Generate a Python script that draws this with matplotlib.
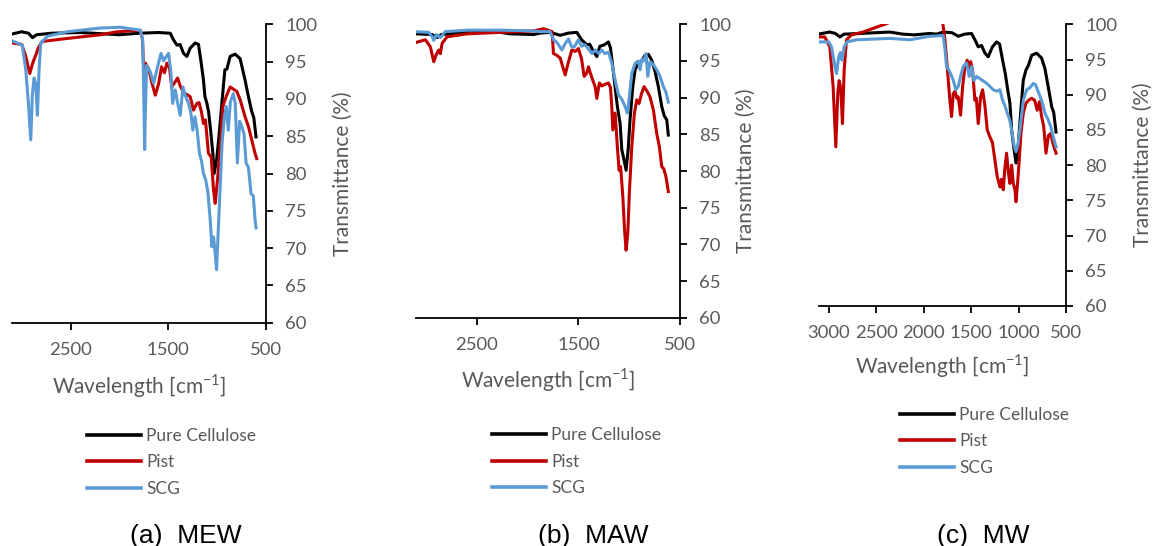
import matplotlib
matplotlib.use("Agg")
import matplotlib.pyplot as plt

plt.rcParams['font.family'] = ['Lato', 'DejaVu Sans']
plt.rcParams['mathtext.fontset'] = 'custom'
plt.rcParams['mathtext.rm'] = 'Lato'

# FTIR spectra: wavenumber (cm-1) and transmittance (%)
# (a) MEW
cell_a_w = [3100, 3000, 2930, 2890, 2850, 2700, 2400, 2000, 1800, 1600, 1480, 1446, 1411, 1380, 1344, 1310,
            1276, 1225, 1191, 1163, 1140, 1125, 1105, 1088, 1067, 1044, 1031, 1006, 982, 952, 921, 900, 867,
            816, 765, 714, 680, 646, 625, 602]
cell_a_t = [98.7, 99.0, 98.8, 98.2, 98.6, 98.8, 98.9, 98.6, 98.8, 98.9, 98.8, 97.9, 97.2, 97.3, 96.1, 95.7,
            96.8, 97.5, 97.3, 94.8, 92.5, 90.3, 89.4, 88.3, 85.8, 82.7, 80.0, 81.8, 84.9, 89.4, 93.9, 94.0, 95.7,
            96.0, 95.4, 92.5, 90.3, 88.3, 87.5, 84.9]
pist_a_w = [3100, 3000, 2959, 2918, 2895, 2877, 2853, 2833, 2792, 2537, 2194, 2024, 1786, 1765, 1752, 1735,
            1700, 1667, 1633, 1600, 1569, 1540, 1514, 1487, 1465, 1429, 1405, 1380, 1344, 1310, 1276, 1242,
            1207, 1185, 1160, 1140, 1120, 1089, 1061, 1037, 1020, 997, 969, 942, 908, 867, 833, 799, 765, 714,
            680, 646, 612, 595]
pist_a_t = [97.5, 97.3, 95.7, 93.4, 94.5, 95.2, 96.0, 96.8, 97.7, 98.1, 98.6, 99.0, 99.2, 98.0, 94.0, 94.8,
            94.0, 92.1, 90.5, 92.0, 94.3, 93.5, 94.8, 94.1, 91.6, 92.3, 92.8, 91.8, 90.8, 90.6, 90.3, 88.5,
            89.4, 89.5, 88.2, 86.7, 87.2, 82.7, 82.2, 77.8, 76.0, 79.1, 83.6, 89.0, 90.3, 91.6, 91.3, 91.0, 89.9,
            87.6, 86.3, 84.5, 82.7, 82.0]
scg_a_w = [3100, 2995, 2959, 2932, 2908, 2891, 2874, 2857, 2840, 2823, 2806, 2738, 2533, 2194, 1990, 1786,
           1762, 1748, 1742, 1735, 1722, 1684, 1650, 1610, 1575, 1548, 1530, 1497, 1475, 1456, 1429, 1405,
           1378, 1350, 1325, 1293, 1270, 1249, 1227, 1205, 1181, 1159, 1140, 1116, 1095, 1071, 1054, 1037,
           1020, 1006, 990, 969, 950, 929, 908, 886, 865, 834, 815, 793, 770, 748, 725, 704, 680, 653, 630,
           612, 602]
scg_a_t = [97.8, 97.2, 93.9, 89.4, 84.5, 90.7, 92.8, 92.0, 87.8, 93.9, 97.5, 98.4, 99.0, 99.5, 99.6, 99.2,
           97.9, 88.0, 83.2, 88.0, 94.5, 93.6, 92.1, 94.3, 96.1, 95.1, 95.5, 96.1, 93.8, 89.4, 91.2, 89.5,
           87.8, 91.6, 90.4, 89.4, 88.2, 85.8, 87.6, 85.8, 82.7, 81.6, 80.0, 79.1, 77.5, 73.8, 70.2, 71.5,
           69.3, 67.1, 72.0, 78.2, 84.0, 87.2, 89.0, 85.8, 89.6, 90.7, 89.4, 81.4, 87.0, 86.3, 85.3, 81.4,
           80.8, 77.3, 77.0, 73.8, 72.7]

# (b) MAW
cell_b_w = [3106, 2941, 2892, 2850, 2597, 2368, 2172, 1942, 1877, 1778, 1680, 1600, 1516, 1470, 1417, 1390,
            1352, 1319, 1290, 1245, 1205, 1185, 1162, 1140, 1117, 1090, 1073, 1051, 1031, 1010, 992, 965, 942,
            910, 877, 844, 811, 778, 745, 713, 680, 655, 631, 615]
cell_b_t = [98.7, 98.6, 98.2, 98.6, 98.9, 99.1, 98.7, 98.6, 98.8, 98.9, 98.5, 98.8, 98.9, 97.9, 97.2, 97.3,
            96.3, 95.6, 97.0, 97.2, 97.6, 96.8, 94.2, 91.5, 88.8, 86.5, 82.9, 81.5, 80.1, 83.0, 87.0, 91.5, 93.8,
            94.7, 95.0, 95.8, 95.9, 95.1, 93.5, 91.5, 88.8, 87.5, 87.0, 84.9]
pist_b_w = [3106, 3007, 2958, 2925, 2900, 2876, 2860, 2843, 2794, 2597, 2270, 1942, 1844, 1800, 1760, 1746,
            1715, 1680, 1631, 1600, 1565, 1530, 1500, 1470, 1444, 1420, 1402, 1370, 1336, 1319, 1294, 1270,
            1240, 1205, 1185, 1172, 1162, 1139, 1117, 1100, 1085, 1063, 1048, 1031, 1014, 999, 975, 949, 926,
            903, 880, 854, 825, 795, 762, 729, 703, 680, 660, 638, 615]
pist_b_t = [97.5, 97.9, 96.9, 94.9, 95.9, 96.5, 96.0, 97.4, 98.3, 98.7, 98.9, 99.1, 99.4, 99.2, 99.0, 96.0,
            95.8, 95.4, 93.1, 94.8, 96.5, 96.3, 96.7, 95.3, 92.9, 93.3, 94.2, 92.8, 91.5, 89.9, 92.0, 91.6,
            91.8, 92.0, 91.4, 88.8, 85.6, 87.9, 83.3, 80.1, 80.6, 76.5, 72.4, 69.2, 71.5, 77.0, 83.3, 87.9, 89.7,
            89.2, 90.5, 91.5, 90.9, 90.1, 88.3, 85.1, 83.3, 80.6, 80.3, 79.2, 77.2]
scg_b_w = [3106, 2975, 2940, 2925, 2900, 2860, 2811, 2597, 2270, 1942, 1877, 1780, 1746, 1710, 1663, 1630,
           1598, 1570, 1542, 1500, 1470, 1435, 1400, 1368, 1335, 1300, 1270, 1240, 1205, 1172, 1139, 1107,
           1074, 1041, 1018, 1000, 975, 942, 910, 893, 877, 860, 834, 818, 795, 762, 729, 697, 664, 640, 615]
scg_b_t = [99.0, 98.9, 98.3, 97.8, 98.6, 98.2, 99.0, 99.2, 99.2, 99.1, 99.0, 99.0, 97.9, 97.5, 96.5, 97.4,
           98.0, 97.0, 96.9, 97.9, 97.0, 97.2, 96.6, 96.0, 96.5, 96.0, 96.5, 96.0, 96.2, 94.7, 92.4, 90.4,
           89.8, 88.8, 87.9, 90.0, 93.3, 94.7, 95.0, 93.8, 95.2, 95.0, 96.0, 92.9, 94.9, 94.5, 93.8, 92.9,
           91.5, 90.8, 89.4]

# (c) MW
cell_c_w = [3113, 2989, 2930, 2884, 2840, 2673, 2357, 2216, 2100, 1935, 1864, 1794, 1700, 1636, 1570, 1495,
            1460, 1425, 1390, 1354, 1320, 1275, 1231, 1200, 1168, 1140, 1119, 1091, 1073, 1056, 1027, 1005,
            978, 950, 922, 895, 862, 810, 757, 722, 687, 651, 630, 605]
cell_c_t = [98.6, 98.9, 98.7, 98.2, 98.6, 98.7, 98.9, 98.6, 98.5, 98.7, 98.6, 98.9, 98.8, 98.3, 98.6, 98.7,
            97.8, 96.8, 97.0, 95.9, 95.4, 96.8, 97.5, 97.2, 94.9, 93.0, 91.1, 88.8, 85.0, 83.1, 80.3, 82.5,
            87.4, 92.1, 93.5, 94.2, 95.6, 95.9, 95.2, 93.7, 91.1, 88.3, 87.5, 84.7]
pist_c_w = [3113, 3042, 2989, 2954, 2926, 2905, 2891, 2874, 2856, 2838, 2813, 2761, 2638, 2497, 2409, 2300,
            1850, 1800, 1776, 1758, 1741, 1724, 1706, 1689, 1670, 1650, 1636, 1611, 1590, 1565, 1541, 1525,
            1505, 1485, 1460, 1445, 1425, 1400, 1379, 1355, 1330, 1302, 1275, 1249, 1225, 1196, 1180, 1161,
            1145, 1126, 1108, 1091, 1073, 1056, 1038, 1027, 1010, 993, 975, 950, 922, 895, 862, 830, 803, 780,
            757, 735, 711, 685, 661, 634, 605]
pist_c_t = [98.2, 98.2, 96.8, 91.1, 82.6, 90.2, 92.0, 91.0, 85.9, 93.5, 97.8, 98.5, 98.9, 99.6, 100.0, 100.6,
            100.8, 100.3, 97.8, 95.0, 92.1, 89.2, 86.9, 90.1, 90.5, 89.5, 89.7, 87.1, 91.1, 94.0, 94.9, 93.8,
            94.7, 93.5, 89.2, 89.5, 85.9, 89.7, 90.7, 88.5, 85.0, 84.0, 83.2, 80.7, 78.4, 76.9, 78.0, 76.5,
            79.5, 81.7, 79.0, 77.4, 80.0, 77.4, 76.5, 74.8, 77.5, 80.7, 84.5, 87.4, 88.8, 89.2, 89.5, 89.2,
            87.8, 89.0, 86.9, 85.5, 81.7, 84.2, 84.5, 82.9, 81.7]
scg_c_w = [3113, 3000, 2972, 2947, 2919, 2895, 2877, 2860, 2838, 2807, 2708, 2357, 2146, 1935, 1794, 1776,
           1759, 1738, 1717, 1689, 1660, 1635, 1611, 1583, 1548, 1520, 1495, 1470, 1442, 1400, 1354, 1310,
           1267, 1230, 1196, 1168, 1145, 1119, 1095, 1073, 1049, 1027, 1005, 978, 950, 915, 880, 845, 820,
           792, 757, 722, 690, 661, 634, 605]
scg_c_t = [97.5, 97.5, 96.8, 94.9, 93.0, 95.4, 96.0, 94.9, 96.8, 97.5, 97.8, 98.0, 97.8, 98.3, 98.4, 96.5,
           94.0, 93.6, 93.0, 92.1, 90.7, 91.2, 92.6, 94.0, 94.5, 92.6, 94.0, 92.0, 92.6, 92.2, 91.8, 91.3,
           90.7, 90.5, 90.7, 89.2, 88.5, 87.4, 86.5, 85.0, 82.9, 81.9, 83.0, 85.9, 89.2, 90.7, 91.0, 91.6,
           91.4, 90.4, 89.2, 87.4, 86.5, 85.5, 84.0, 82.6]

series_names = ['Pure Cellulose', 'Pist', 'SCG']
series_colors = ['#000000', '#C00000', '#5B9BD5']
captions = ['(a)  MEW', '(b)  MAW', '(c)  MW']
y_ticks = [60, 65, 70, 75, 80, 85, 90, 95, 100]
x_ticks_ab = [2500, 1500, 500]
x_ticks_c = [3000, 2500, 2000, 1500, 1000, 500]

W, H = 1154, 546
fig = plt.figure(figsize=(W / 100, H / 100), dpi=100)
grey = '#595959'

# axes boxes in pixels: left, right, top, bottom
boxes = [(12, 266, 24.3, 322.7), (416, 680, 24.3, 317.7), (819.3, 1066, 24.3, 306)]
ylabel_x = [1.262, 1.212, 1.272]
legend_pos = [(87, 428), (492, 427.5), (900, 407)]
caption_x = [186, 593, 983]

data = [
    [(cell_a_w, cell_a_t), (pist_a_w, pist_a_t), (scg_a_w, scg_a_t)],
    [(cell_b_w, cell_b_t), (pist_b_w, pist_b_t), (scg_b_w, scg_b_t)],
    [(cell_c_w, cell_c_t), (pist_c_w, pist_c_t), (scg_c_w, scg_c_t)],
]

for i, (l, r, t, b) in enumerate(boxes):
    ax = fig.add_axes([l / W, (H - b) / H, (r - l) / W, (b - t) / H])
    for (wn, tr), name, col in zip(data[i], series_names, series_colors):
        ax.plot(wn, tr, color=col, lw=2.2, label=name)
    ax.set_xlim(3100, 500)
    ax.set_ylim(60, 100)
    ax.set_xticks(x_ticks_c if i == 2 else x_ticks_ab)
    ax.set_yticks(y_ticks)
    ax.spines['top'].set_visible(False)
    ax.spines['left'].set_visible(False)
    for s in ['bottom', 'right']:
        ax.spines[s].set_linewidth(1.3)
    ax.yaxis.tick_right()
    ax.yaxis.set_label_position('right')
    ax.tick_params(axis='both', direction='out', length=5, width=1.3, pad=9,
                   labelsize=13.3, labelcolor=grey)
    ax.set_ylabel('Transmittance (%)', fontsize=15, color=grey)
    ax.yaxis.set_label_coords(ylabel_x[i], 0.5)
    ax.set_xlabel('Wavelength [cm$^{\\mathregular{-1}}$]', fontsize=15, color=grey)
    ax.xaxis.set_label_coords(0.5, -0.165)

    lx, ly = legend_pos[i]
    leg = ax.legend(loc='upper left', bbox_to_anchor=(lx / W, (H - ly) / H),
                    bbox_transform=fig.transFigure, frameon=False, fontsize=12.5,
                    borderpad=0, borderaxespad=0, handlelength=3.1, handletextpad=0.3,
                    labelspacing=0.6)
    for txt in leg.get_texts():
        txt.set_color(grey)
    for ln in leg.get_lines():
        ln.set_linewidth(2.6)

    fig.text(caption_x[i] / W, (H - 543) / H, captions[i], ha='center', va='baseline',
             fontsize=19, family='Liberation Sans', color='black')

fig.savefig('out.png', dpi=100)
